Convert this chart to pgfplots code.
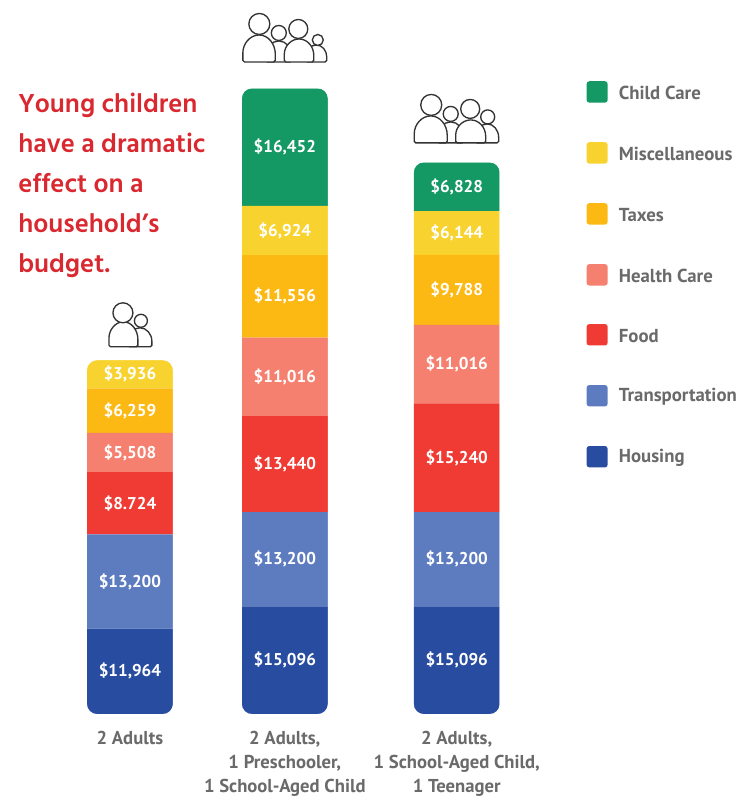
\documentclass[border=0pt]{standalone}
\usepackage{fontspec}
\usepackage{pgfplots}
\pgfplotsset{compat=1.18}
\setmainfont{PT Sans}
\newfontfamily\headfont{Hind Siliguri}
\definecolor{cChild}{HTML}{149864}
\definecolor{cMisc}{HTML}{F8D32F}
\definecolor{cTax}{HTML}{FDB913}
\definecolor{cHealth}{HTML}{F5806F}
\definecolor{cFood}{HTML}{EF3B33}
\definecolor{cTrans}{HTML}{5D7CC0}
\definecolor{cHouse}{HTML}{274CA0}
\definecolor{cHead}{HTML}{D9282F}
\definecolor{cText}{HTML}{6A6A6A}
\definecolor{cIcon}{HTML}{333333}
% one outlined figure: head centre x, head centre y, head radius, body left, body right, body top, base
\newcommand{\person}[7]{%
  \pgfmathsetmacro{\rx}{(#5-#4)/2}%
  \pgfmathsetmacro{\ry}{(#7-#6)*0.72}%
  \draw[cIcon,line width=1pt,fill=white,rounded corners=1.2pt]
    (#4,#7) -- (#4,#6+\ry) [sharp corners] arc[start angle=180,end angle=360,x radius=\rx,y radius=\ry]
    [rounded corners=1.2pt] -- (#5,#7) -- cycle;
  \draw[cIcon,line width=1pt,fill=white] (#1,#2) circle[radius=#3];%
}
\newcommand{\legendrow}[3]{%
  \fill[#1,rounded corners=2pt] (587,#2-10.7) rectangle (608,#2+10.7);
  \node[anchor=west,inner sep=0pt,text=cText,font=\fontsize{14.1pt}{16pt}\selectfont\bfseries] at (619,#2+0.8) {#3};
}
% white corner mask around one stack: left, right, total
\newcommand{\stackmask}[3]{%
  \fill[white,even odd rule] [rounded corners=7.5pt] (axis cs:#1,0) rectangle (axis cs:#2,#3)
    [sharp corners] (axis cs:#1-1.5,-0.2) rectangle (axis cs:#2+1.5,#3+0.2);
}
\begin{document}
\begin{tikzpicture}
\path[use as bounding box] (0,-62.25pt) rectangle (554.25pt,535.875pt);
\begin{axis}[
  at={(0,0)},anchor=south west,
  scale only axis,width=554.25pt,height=535.875pt,
  xmin=0,xmax=739,ymin=0,ymax=100.07,
  axis line style={draw=none},
  ytick=\empty,
  xtick={130,285,457},
  xticklabels={{2 Adults},{2 Adults,\\1 Preschooler,\\1 School-Aged Child},{2 Adults,\\1 School-Aged Child,\\1 Teenager}},
  major tick length=0pt,
  xticklabel style={align=center,anchor=north,yshift=-9.6pt,text=cText,
    font=\fontsize{14pt}{17.8pt}\selectfont\bfseries},
  ybar stacked,
  bar width=64.5pt,
  clip=false,
  point meta=explicit symbolic,
  nodes near coords={\pgfplotspointmeta},
  nodes near coords style={anchor=center,text=white,inner sep=0pt,
    font=\fontsize{12.8pt}{16pt}\selectfont\bfseries},
  after end axis/.code={%
    \stackmask{87}{173}{49.591}
    \stackmask{242}{328}{87.684}
    \stackmask{414}{500}{77.312}
  },
]
% spending per household in thousands of dollars, bottom to top of each stack
\addplot[fill=cHouse,draw=none] table[x=x,y=y,meta=lab] {
x y lab
130 11.964 \$11,964
285 15.096 \$15,096
457 15.096 \$15,096
};
\addplot[fill=cTrans,draw=none] table[x=x,y=y,meta=lab] {
x y lab
130 13.200 \$13,200
285 13.200 \$13,200
457 13.200 \$13,200
};
\addplot[fill=cFood,draw=none] table[x=x,y=y,meta=lab] {
x y lab
130 8.724 \$8.724
285 13.440 \$13,440
457 15.240 \$15,240
};
\addplot[fill=cHealth,draw=none] table[x=x,y=y,meta=lab] {
x y lab
130 5.508 \$5,508
285 11.016 \$11,016
457 11.016 \$11,016
};
\addplot[fill=cTax,draw=none] table[x=x,y=y,meta=lab] {
x y lab
130 6.259 \$6,259
285 11.556 \$11,556
457 9.788 \$9,788
};
\addplot[fill=cMisc,draw=none] table[x=x,y=y,meta=lab] {
x y lab
130 3.936 \$3,936
285 6.924 \$6,924
457 6.144 \$6,144
};
\addplot[fill=cChild,draw=none] table[x=x,y=y,meta=lab] {
x y lab
130 0 {}
285 16.452 \$16,452
457 6.828 \$6,828
};
\end{axis}
% annotations laid out on a pixel grid, y running downward
\begin{scope}[x=0.75pt,y=-0.75pt,yshift=535.875pt]
  \foreach \yy/\txt in {113/Young children,153/have a dramatic,193/effect on a,233/household’s,273/budget.}{
    \node[anchor=base west,inner sep=0pt,text=cHead,font=\headfont\fontsize{20pt}{22pt}\selectfont\bfseries] at (18,\yy) {\txt};
  }
  \legendrow{cChild}{92}{Child Care}
  \legendrow{cMisc}{153}{Miscellaneous}
  \legendrow{cTax}{214}{Taxes}
  \legendrow{cHealth}{275}{Health Care}
  \legendrow{cFood}{335}{Food}
  \legendrow{cTrans}{396}{Transportation}
  \legendrow{cHouse}{457}{Housing}
  % household icons
  \person{141}{321}{6.5}{128}{152}{328}{347}
  \person{123}{313}{10}{109}{138}{322}{347}
  \person{279}{33}{7.5}{266}{292}{41}{62}
  \person{318}{40}{5.5}{306}{327}{45}{62}
  \person{259.5}{24}{10.5}{243}{275.5}{35}{62}
  \person{298.5}{29}{9.5}{284.5}{314}{39}{62}
  \person{451}{114}{7.5}{438}{464}{122}{143}
  \person{488}{117}{7}{476}{499}{124}{143}
  \person{431.5}{105}{10.5}{414.5}{447.5}{116}{143}
  \person{470.5}{109}{9.5}{456}{486}{120}{143}
\end{scope}
\end{tikzpicture}
\end{document}
